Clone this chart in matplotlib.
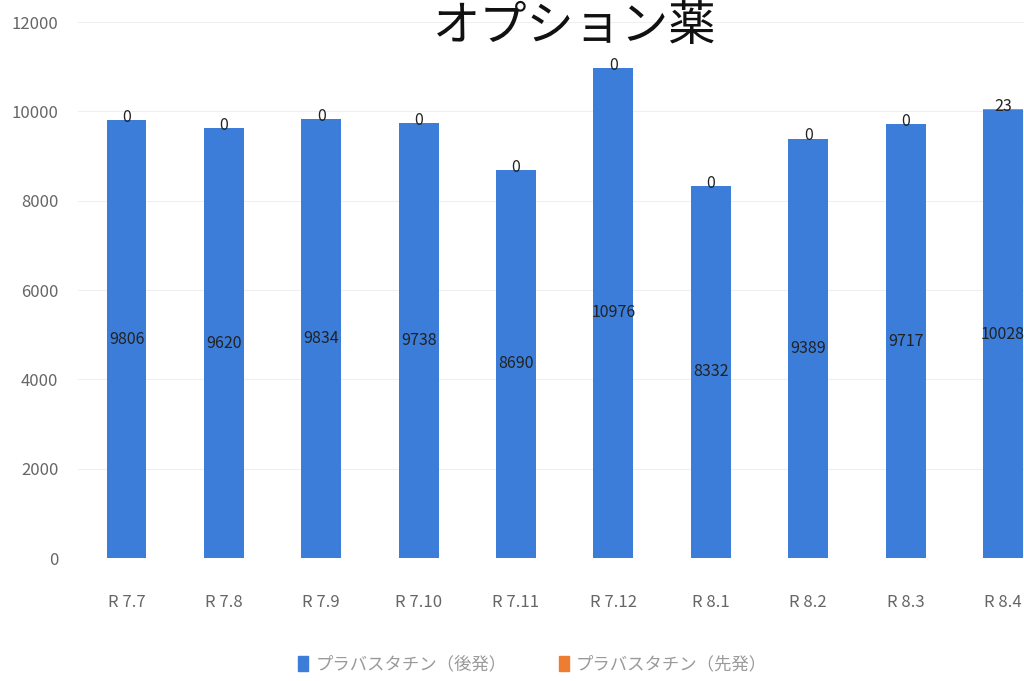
import numpy as np
import matplotlib
matplotlib.use('Agg')
from matplotlib import pyplot as plt

plt.rcParams['font.family'] = ['Noto Sans CJK JP', 'DejaVu Sans']

categories = ['R 7.7', 'R 7.8', 'R 7.9', 'R 7.10', 'R 7.11', 'R 7.12', 'R 8.1', 'R 8.2', 'R 8.3', 'R 8.4']
generic = [9806, 9620, 9834, 9738, 8690, 10976, 8332, 9389, 9717, 10028]
brand = [0, 0, 0, 0, 0, 0, 0, 0, 0, 23]
series_names = ['プラバスタチン（後発）', 'プラバスタチン（先発）']
title = 'オプション薬'

blue = '#3b7dd8'
orange = '#ed7d31'

fig = plt.figure(figsize=(10.24, 6.81), dpi=100)
ax = fig.add_axes([0.076, 0.1806, 0.951, 0.787])

x = np.arange(len(categories))
ax.bar(x, generic, width=0.41, color=blue, label=series_names[0], zorder=2)
ax.bar(x, brand, width=0.41, bottom=generic, color=orange, label=series_names[1], zorder=2)

# value labels: generic in the middle of the bar, brand on top
for xi, g, b in zip(x, generic, brand):
    ax.text(xi, g / 2, str(g), ha='center', va='center', fontsize=11.5, color='#222222', zorder=3)
    ax.text(xi, g + b / 2 + 60, str(b), ha='center', va='center', fontsize=11.5, color='#222222', zorder=3)

ax.set_xlim(-0.5, len(categories) - 0.5)
ax.set_ylim(0, 12000)
ax.set_yticks(np.arange(0, 12001, 2000))
ax.set_xticks(x)
ax.set_xticklabels(categories)
ax.tick_params(axis='both', length=0, labelsize=12, labelcolor='#666666')
ax.tick_params(axis='x', pad=26)
ax.tick_params(axis='y', pad=14)
ax.grid(axis='y', color='#efefef', linewidth=0.8, zorder=0)
for s in ax.spines.values():
    s.set_visible(False)

fig.text(575 / 1024, (681 - 40) / 681, title, ha='center', va='baseline', fontsize=34, color='#111111')

handles = [plt.Rectangle((0, 0), 1, 1, color=blue), plt.Rectangle((0, 0), 1, 1, color=orange)]
fig.legend(handles, series_names, loc='center', bbox_to_anchor=(0.52, 0.024), ncol=2, frameon=False,
           fontsize=12.5, labelcolor='#9a9a9a', handlelength=0.6, handleheight=1.0, columnspacing=3.0,
           handletextpad=0.4)

fig.savefig('out.png', dpi=100)
